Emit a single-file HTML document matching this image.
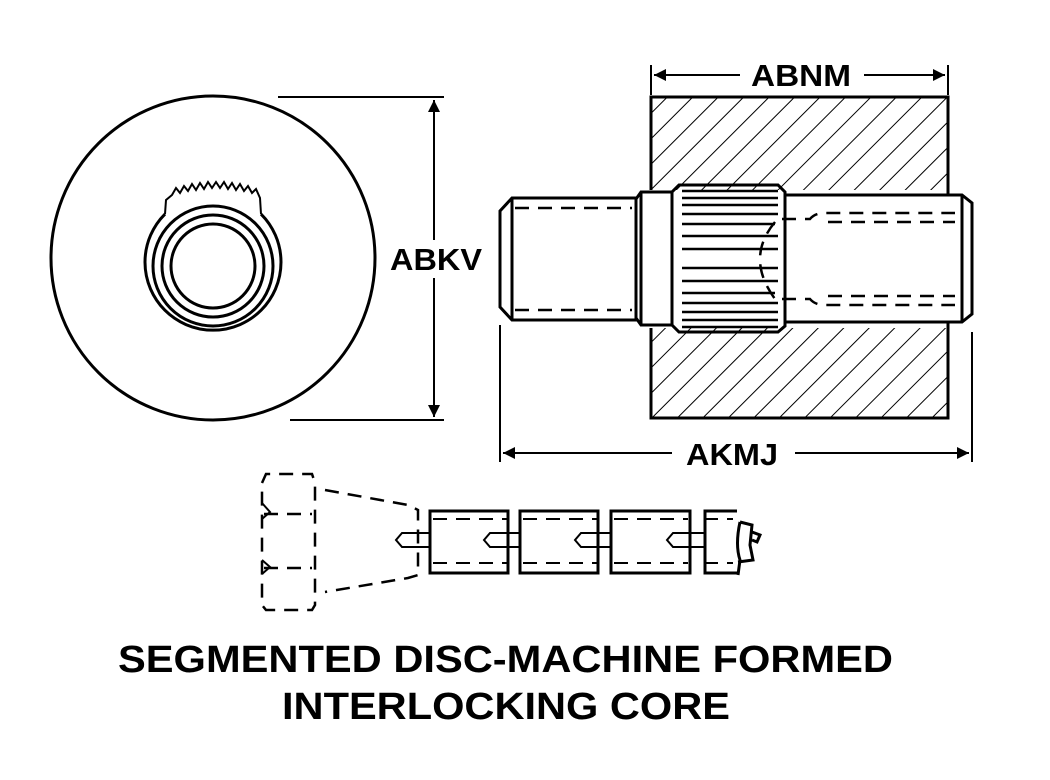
<!DOCTYPE html>
<html><head><style>body{margin:0;background:#fff}svg{display:block}</style></head><body>
<svg width="1050" height="780" viewBox="0 0 1050 780" xmlns="http://www.w3.org/2000/svg">
<defs>
<pattern id="h" width="18" height="18" patternUnits="userSpaceOnUse" patternTransform="rotate(45)">
<line x1="0" y1="0" x2="0" y2="18" stroke="#000" stroke-width="2"/></pattern>
<marker id="a" viewBox="0 0 10 10" refX="10" refY="5" markerWidth="26" markerHeight="12" markerUnits="userSpaceOnUse" orient="auto-start-reverse"><path d="M0,0L10,5L0,10z"/></marker>
</defs>
<g fill="none" stroke="#000" stroke-width="3">
<!-- left view -->
<circle cx="213" cy="258" r="162"/>
<path d="M165,214 A68,68 0 1 0 261,214"/>
<path d="M165,214 L166,200 L172,195 L176,188 L180,193 L184,186 L188,191 L192,184 L196,190 L200,183 L204,189 L208,182 L212,188 L216,182 L220,188 L224,182 L228,189 L232,183 L236,190 L240,184 L244,191 L248,186 L252,193 L256,189 L260,198 L261,214" stroke-width="2"/>
<circle cx="213" cy="266" r="60"/>
<circle cx="213" cy="266" r="51"/>
<circle cx="213" cy="266" r="42"/>
<line x1="278" y1="97" x2="444" y2="97" stroke-width="2"/>
<line x1="290" y1="420" x2="444" y2="420" stroke-width="2"/>
<line x1="434" y1="100" x2="434" y2="240" stroke-width="2" marker-start="url(#a)"/>
<line x1="434" y1="278" x2="434" y2="417" stroke-width="2" marker-end="url(#a)"/>
<!-- block -->
<rect x="651" y="97" width="297" height="321" fill="url(#h)"/>
<rect x="636" y="190" width="334" height="138" fill="#fff" stroke="none"/>
<line x1="651" y1="97" x2="651" y2="190"/><line x1="948" y1="97" x2="948" y2="195"/>
<line x1="651" y1="328" x2="651" y2="418"/><line x1="948" y1="322" x2="948" y2="418"/>
<!-- shaft -->
<path d="M512,198 L636,198 L636,320 L512,320 L500,307 L500,211 Z"/>
<line x1="512" y1="198" x2="512" y2="320"/>
<path d="M641,192 L672,192 L672,325 L641,325 L636,318 L636,199 Z"/>
<line x1="641" y1="192" x2="641" y2="325"/>
<path d="M679,185 L778,185 L785,192 L785,326 L778,332 L679,332 L672,325 L672,192 Z"/>
<path d="M785,195 L962,195 L972,203 L972,314 L962,322 L785,322" />
<line x1="962" y1="195" x2="962" y2="322"/>
<g stroke-width="2.5">
<line x1="682" y1="191" x2="778" y2="191"/><line x1="682" y1="198" x2="778" y2="198"/><line x1="682" y1="205" x2="778" y2="205"/><line x1="682" y1="214" x2="778" y2="214"/><line x1="682" y1="224" x2="775" y2="224"/><line x1="682" y1="236" x2="778" y2="236"/><line x1="682" y1="249" x2="778" y2="249"/><line x1="682" y1="268" x2="778" y2="268"/><line x1="682" y1="281" x2="778" y2="281"/><line x1="682" y1="293" x2="775" y2="293"/><line x1="682" y1="303" x2="778" y2="303"/><line x1="682" y1="312" x2="778" y2="312"/><line x1="682" y1="320" x2="778" y2="320"/><line x1="682" y1="327" x2="778" y2="327"/>
</g>
<g stroke-dasharray="14,9" stroke-width="2.5">
<line x1="515" y1="208" x2="632" y2="208"/><line x1="515" y1="310" x2="632" y2="310"/>
<path d="M782,219 L810,219 Q815,213 825,213 L955,213"/><line x1="828" y1="222" x2="955" y2="222"/>
<path d="M782,299 L810,299 Q815,305 825,305 L955,305"/><line x1="828" y1="296" x2="955" y2="296"/>
<path d="M775,222 Q745,258 775,299"/>
</g>
<line x1="651" y1="65" x2="651" y2="95" stroke-width="2"/><line x1="948" y1="65" x2="948" y2="95" stroke-width="2"/>
<line x1="654" y1="75" x2="740" y2="75" stroke-width="2" marker-start="url(#a)"/>
<line x1="864" y1="75" x2="945" y2="75" stroke-width="2" marker-end="url(#a)"/>
<line x1="500" y1="325" x2="500" y2="462" stroke-width="2"/><line x1="972" y1="332" x2="972" y2="462" stroke-width="2"/>
<line x1="503" y1="453" x2="672" y2="453" stroke-width="2" marker-start="url(#a)"/>
<line x1="795" y1="453" x2="969" y2="453" stroke-width="2" marker-end="url(#a)"/>
<!-- bottom -->
<g stroke-dasharray="14,9" stroke-width="2.5">
<path d="M262,483 L266,474 L312,474 L315,483 L315,605 L312,610 L266,610 L262,605 Z"/>
<line x1="264" y1="514" x2="312" y2="514"/><line x1="264" y1="568" x2="312" y2="568"/>
<path d="M325,490 L408,505 L418,510 L418,575 L408,578 L325,592"/>
<g stroke-width="2">
<line x1="433" y1="519" x2="507" y2="519"/><line x1="433" y1="563" x2="507" y2="563"/>
<line x1="523" y1="519" x2="597" y2="519"/><line x1="523" y1="563" x2="597" y2="563"/>
<line x1="614" y1="519" x2="688" y2="519"/><line x1="614" y1="563" x2="688" y2="563"/>
<line x1="704" y1="519" x2="733" y2="519"/><line x1="704" y1="563" x2="733" y2="563"/>
</g></g>
<path d="M262,503 L270,512 L262,519" stroke-width="2"/><path d="M262,560 L270,567 L262,574" stroke-width="2"/>
<rect x="430" y="511" width="78" height="62"/><rect x="520" y="511" width="78" height="62"/><rect x="611" y="511" width="79" height="62"/>
<path d="M737,511 L705,511 L705,573 L737,573"/>
<path d="M740,522 Q735,545 740,560 L738,575 M740,522 L752,525 L750,545 L753,560 L738,562 M752,532 L760,535 L757,542 L752,540" stroke-width="3"/>
<g stroke-width="2">
<path d="M430,533 L402,533 L396,540 L402,547 L430,547"/>
<path d="M520,533 L490,533 L484,540 L490,547 L520,547"/><path d="M508,533 L520,533 M508,547 L520,547"/>
<path d="M611,533 L581,533 L575,540 L581,547 L611,547"/>
<path d="M705,533 L673,533 L667,540 L673,547 L705,547"/>
</g>
</g>
<g font-family="Liberation Sans, sans-serif" font-weight="bold" fill="#000">
<text x="436" y="270" font-size="31" text-anchor="middle" textLength="92" lengthAdjust="spacingAndGlyphs">ABKV</text>
<text x="801" y="86" font-size="31" text-anchor="middle" textLength="100" lengthAdjust="spacingAndGlyphs">ABNM</text>
<text x="732" y="465" font-size="31" text-anchor="middle" textLength="92" lengthAdjust="spacingAndGlyphs">AKMJ</text>
<text x="118" y="672" font-size="38" textLength="775" lengthAdjust="spacingAndGlyphs">SEGMENTED DISC-MACHINE FORMED</text>
<text x="282" y="719" font-size="38" textLength="448" lengthAdjust="spacingAndGlyphs">INTERLOCKING CORE</text>
</g>
</svg>
</body></html>
